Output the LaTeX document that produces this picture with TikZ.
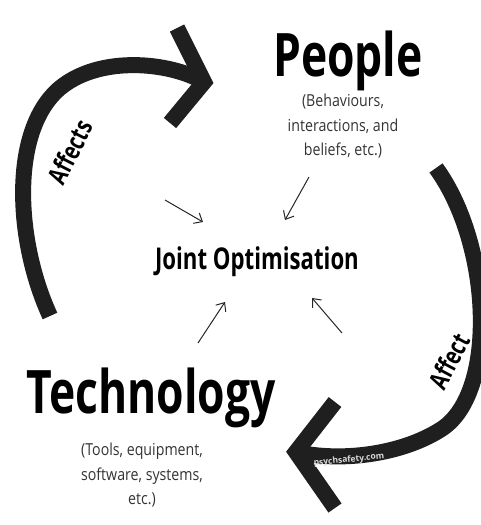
\documentclass[tikz,border=0pt]{standalone}
\usepackage{fontspec}
\setmainfont{Open Sans}
\newfontfamily\headfont{Open Sans}[FakeStretch=0.74]
\newfontfamily\notefont{Open Sans}[FakeStretch=0.86]
\usetikzlibrary{arrows.meta}
\tikzset{
  title/.style={font=\headfont\bfseries\fontsize{60}{60}\selectfont, inner sep=0pt},
  hub/.style={font=\headfont\bfseries\fontsize{30}{30}\selectfont, inner sep=0pt},
  note/.style={font=\notefont\fontsize{16.5}{24.5}\selectfont, align=center, text=black!80, inner sep=0pt},
  verb/.style={font=\headfont\bfseries\fontsize{26}{26}\selectfont, inner sep=0pt},
  brush/.style={line width=16pt, black!88},
  pointer/.style={line width=1pt, black!85, -{Straight Barb[length=7pt,width=12pt]}},
}
\begin{document}
\begin{tikzpicture}[x=1pt,y=-1pt]
\useasboundingbox (0,0) rectangle (481,525);

\node[title, anchor=base] (people) at (348,76) {People};
\node[note, anchor=north] (peoplenote) at (343,94) {(Behaviours,\\interactions, and\\beliefs, etc.)};
\node[title, anchor=base] (tech) at (151,413) {Technology};
\node[note, anchor=north] (technote) at (142,443) {(Tools, equipment,\\software, systems,\\etc.)};
\node[hub, anchor=base] (joint) at (257,269) {Joint Optimisation};

% pointers into the middle
\coordinate (p1) at (165,200); \coordinate (q1) at (203,222);
\coordinate (p2) at (309,177); \coordinate (q2) at (285,220);
\coordinate (p3) at (198,343); \coordinate (q3) at (225,302);
\coordinate (p4) at (342,333); \coordinate (q4) at (312,298);
\draw[pointer] (p1) -- (q1);
\draw[pointer] (p2) -- (q2);
\draw[pointer] (p3) -- (q3);
\draw[pointer] (p4) -- (q4);

% left loop: technology -> people
\coordinate (a1) at (50,316);
\coordinate (a2) at (60,88);
\coordinate (atip) at (204,82);
\coordinate (aup) at (177,28);
\coordinate (alow) at (170,123);
\draw[brush] (a1) .. controls (15,240) and (10,130) .. (a2) .. controls (100,55) and (170,62) .. (atip);
\draw[brush, line join=miter] (aup) -- (atip) -- (alow);
\node[verb, rotate=63] (affects) at (70,152) {Affects};

% right loop: people -> technology
\coordinate (b1) at (436,168);
\coordinate (b2) at (440,430);
\coordinate (btip) at (296,452);
\coordinate (bup) at (335,402);
\coordinate (blow) at (335,508);
\draw[brush] (b1) .. controls (492,245) and (498,395) .. (b2) .. controls (400,455) and (340,462) .. (btip);
\draw[brush, line join=miter] (bup) -- (btip) -- (blow);
\node[verb, rotate=62] (affect) at (449,361) {Affect};
\node[font=\bfseries\fontsize{8.5}{8.5}\selectfont, text=white!85!black, rotate=6, inner sep=0pt] (site) at (349,460) {psychsafety.com};
\end{tikzpicture}
\end{document}
